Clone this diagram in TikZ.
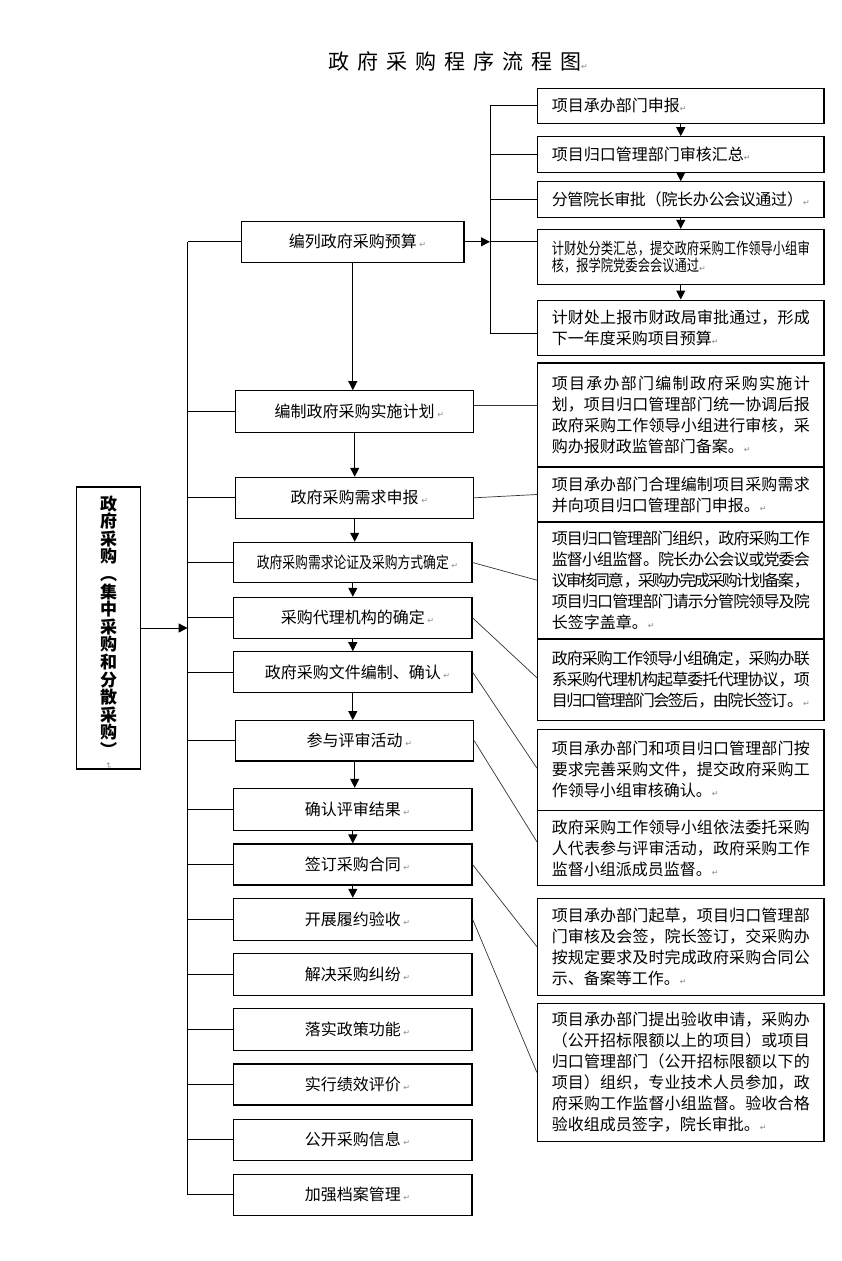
\documentclass[tikz,border=0pt]{standalone}
\usepackage{fontspec}
\usepackage{graphicx}
\usetikzlibrary{arrows.meta}
\newfontfamily\cjk{Noto Sans CJK SC}
\newfontfamily\dv{DejaVu Sans}
\XeTeXlinebreaklocale "zh"
\XeTeXlinebreakskip=0pt plus 2pt minus 2.5pt
\XeTeXlinebreakpenalty=0
\newcommand\ret{{\dv\fontsize{8}{8}\selectfont\textcolor{black!45}{↵}}}
\newcommand\retl{\rlap{\,\ret}}
\newcommand\nl{\linebreak}
\begin{document}
\begin{tikzpicture}[x=1pt,y=-1pt,
  box/.style={draw, line width=1.1pt, inner sep=0pt},
  lbox/.style={box, font=\cjk\fontsize{16}{16}\selectfont, align=center},
  rbox/.style={box, minimum width=286.5pt, text width=258pt, align=justify,
     font=\cjk\fontsize{16}{21}\selectfont},
  arr/.style={line width=1pt, -{Triangle[length=9pt,width=9pt]}},
  ln/.style={line width=0.9pt},
  cn/.style={line width=0.7pt, black!80}]
\useasboundingbox[fill=white] (0,0) rectangle (841,1261);
\tolerance=9999 \emergencystretch=0pt

% title
\node[anchor=west, inner sep=0pt, font=\cjk\fontsize{21}{21}\selectfont] (title) at (328,61)
  {政\hspace{8pt}府\hspace{8pt}采\hspace{8pt}购\hspace{8pt}程\hspace{8pt}序\hspace{8pt}流\hspace{8pt}程\hspace{8pt}图\ret};

% top right boxes
\node[rbox, minimum height=35pt] (T1) at (680.75,105.8) {项目承办部门申报\ret};
\node[rbox, minimum height=35.6pt] (T2) at (680.75,154.5) {项目归口管理部门审核汇总\ret};
\node[rbox, minimum height=35.6pt] (T3) at (680.75,199.5) {分管院长审批（院长办公会议通过）\ret};
\node[box, minimum width=286.5pt, minimum height=54.7pt, text width=258pt, align=left,
  font=\cjk\fontsize{16}{17}\selectfont] (T4) at (680.75,256.7)
  {\scalebox{0.768}[1]{计财处分类汇总，提交政府采购工作领导小组审}\\\scalebox{0.768}[1]{核，报学院党委会会议通过}\ret};
\node[rbox, minimum height=55.3pt] (T5) at (680.75,327.7) {计财处上报市财政局审批通过，形成\nl 下一年度采购项目预算\ret};

% right boxes
\node[rbox, minimum height=104pt] (A) at (680.75,415) {项目承办部门编制政府采购实施计\nl 划，项目归口管理部门统一协调后报\nl 政府采购工作领导小组进行审核，采\nl 购办报财政监管部门备案。\ret};
\node[rbox, minimum height=55pt] (B) at (680.75,494.5) {项目承办部门合理编制项目采购需求\nl 并向项目归口管理部门申报。\ret};
\node[rbox, minimum height=116.3pt] (C) at (680.75,580.2) {项目归口管理部门组织，政府采购工作\nl 监督小组监督。院长办公会议或党委会\nl 议审核同意，采购办完成采购计划备案，\nl 项目归口管理部门请示分管院领导及院\nl 长签字盖章。\ret};
\node[rbox, minimum height=80.5pt] (D) at (680.75,679.8) {政府采购工作领导小组确定，采购办联\nl 系采购代理机构起草委托代理协议，项\nl 目归口管理部门会签后，由院长签订。\ret};
\node[rbox, minimum height=80.7pt] (E) at (680.75,769.7) {项目承办部门和项目归口管理部门按\nl 要求完善采购文件，提交政府采购工\nl 作领导小组审核确认。\ret};
\node[rbox, minimum height=75.7pt] (F) at (680.75,847.9) {政府采购工作领导小组依法委托采购\nl 人代表参与评审活动，政府采购工作\nl 监督小组派成员监督。\ret};
\node[rbox, minimum height=96.7pt] (G) at (680.75,946.7) {项目承办部门起草，项目归口管理部\nl 门审核及会签，院长签订，交采购办\nl 按规定要求及时完成政府采购合同公\nl 示、备案等工作。\ret};
\node[rbox, minimum height=138.3pt] (H) at (680.75,1072.5) {项目承办部门提出验收申请，采购办\nl （公开招标限额以上的项目）或项目\nl 归口管理部门（公开招标限额以下的\nl 项目）组织，专业技术人员参加，政\nl 府采购工作监督小组监督。验收合格\nl 验收组成员签字，院长审批。\ret};

% left boxes
\node[lbox, minimum width=222.4pt, minimum height=41pt] (L0) at (352.8,241.8) {编列政府采购预算\retl};
\node[lbox, minimum width=238pt, minimum height=41.6pt] (L1) at (354.7,411.5) {编制政府采购实施计划\retl};
\node[lbox, minimum width=238pt, minimum height=41pt] (L2) at (354.7,497.8) {政府采购需求申报\retl};
\node[lbox, minimum width=238.4pt, minimum height=40.4pt] (L3) at (352.8,562.5) {\scalebox{0.8}[1]{政府采购需求论证及采购方式确定}\retl};
\node[lbox, minimum width=238.4pt, minimum height=41pt] (L4) at (352.8,617.8) {采购代理机构的确定\retl};
\node[lbox, minimum width=238.4pt, minimum height=40.6pt] (L5) at (352.8,672) {政府采购文件编制、确认\retl};
\node[lbox, minimum width=238pt, minimum height=40.3pt] (L6) at (354.7,740.8) {参与评审活动\retl};
\node[lbox, minimum width=238.4pt, minimum height=41.7pt] (L7) at (352.8,809.2) {确认评审结果\retl};
\node[lbox, minimum width=238.4pt, minimum height=41pt] (L8) at (352.8,864.5) {签订采购合同\retl};
\node[lbox, minimum width=238.4pt, minimum height=41.7pt] (L9) at (352.8,919.2) {开展履约验收\retl};
\node[lbox, minimum width=238.4pt, minimum height=41.7pt] (L10) at (352.8,974.2) {解决采购纠纷\retl};
\node[lbox, minimum width=238.4pt, minimum height=41.7pt] (L11) at (352.8,1029.2) {落实政策功能\retl};
\node[lbox, minimum width=238.4pt, minimum height=41pt] (L12) at (352.8,1084.5) {实行绩效评价\retl};
\node[lbox, minimum width=238.4pt, minimum height=40.7pt] (L13) at (352.8,1139.7) {公开采购信息\retl};
\node[lbox, minimum width=238.4pt, minimum height=40.7pt] (L14) at (352.8,1194.7) {加强档案管理\retl};

% vertical box
\node[box, minimum width=63.6pt, minimum height=282pt] (V) at (108.5,628) {};
\node[inner sep=0pt, align=center, font=\cjk\bfseries\fontsize{17}{17.6}\selectfont] (Vt) at (108.5,626)
  {政\\府\\采\\购\\︵\\集\\中\\采\\购\\和\\分\\散\\采\\购\\︶};
\node[inner sep=0pt, rotate=-90] (Vr) at (108.5,766) {\ret};

% top trunk
\coordinate (TT) at (490,105.8);
\coordinate (J5) at (490,333);
\draw[ln] (TT) -- (J5);
\draw[ln] (T1.west) -- (T1.west -| TT);
\draw[ln] (T2.west) -- (T2.west -| TT);
\draw[ln] (T3.west) -- (T3.west -| TT);
\draw[ln] (L0.east -| TT) -- (L0.east -| T4.west);
\draw[ln] (J5) -- (J5 -| T5.west);
\draw[arr] (L0.east) -- (L0.east -| TT);
\foreach \a/\b in {T1/T2,T2/T3,T3/T4,T4/T5}
  \draw[arr] (\a.south) -- (\a.south |- \b.north);

% left trunk
\coordinate (TR) at (187.6,241.8);
\draw[ln] (TR) -- (TR |- L14.west);
\foreach \i in {0,...,14} \draw[ln] (L\i.west) -- (L\i.west -| TR);
\draw[arr] (V.east) -- (V.east -| TR);

% main down arrows
\foreach \a/\b in {0/1,1/2,2/3,3/4,4/5,5/6,6/7,7/8,8/9}
  \draw[arr] (L\a.south) -- (L\a.south |- L\b.north);

% connectors to explanation boxes
\draw[cn] ([yshift=5.8pt]L1.east) -- ([yshift=5.8pt]L1.east -| A.west);
\draw[cn] (L2.east) -- (B.west);
\draw[cn] (L3.east) -- (C.west);
\draw[cn] (L4.east) -- ([yshift=2pt]D.west);
\draw[cn] (L5.east) -- ([yshift=1.5pt]E.west);
\draw[cn] (L6.east) -- ([yshift=6pt]F.west);
\draw[cn] (L8.east) -- (G.west);
\draw[cn] (L9.east) -- (H.west);
\end{tikzpicture}
\end{document}
